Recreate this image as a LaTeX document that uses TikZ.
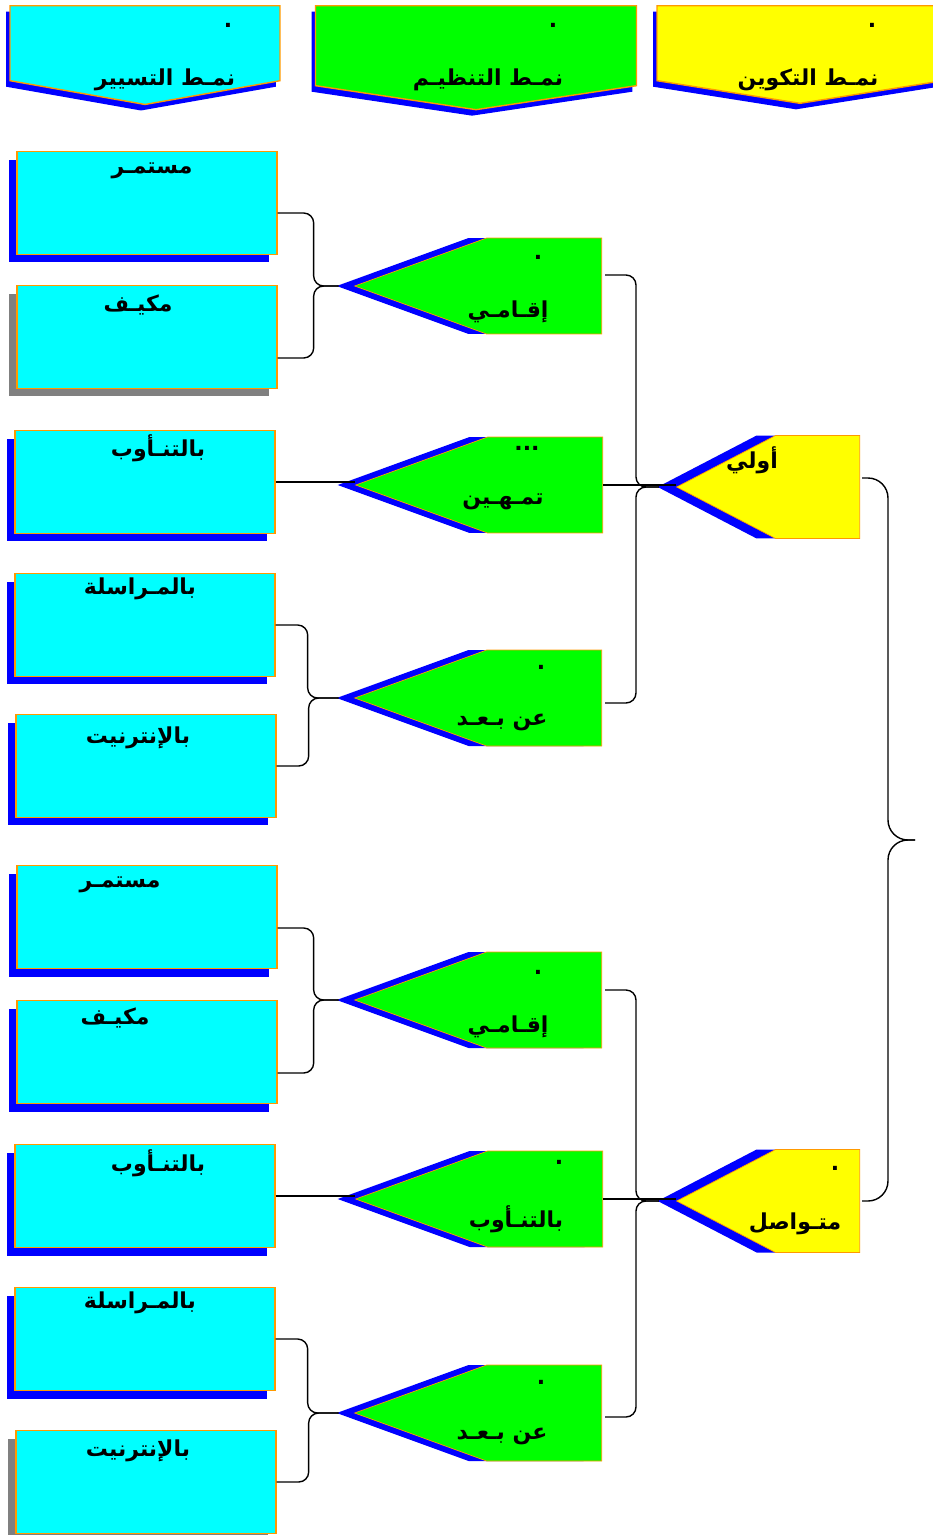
\documentclass[tikz,border=0pt]{standalone}
\usepackage{fontspec}
\newfontfamily\arabicfont[Script=Arabic]{DejaVu Sans}
\TeXXeTstate=1
\usepackage{tikz}
\usetikzlibrary{shapes.symbols, positioning, calc, shadows}
\definecolor{borde}{RGB}{255,153,0}
\definecolor{cian}{RGB}{0,255,255}
\definecolor{verde}{RGB}{0,255,0}
\definecolor{amarillo}{RGB}{255,255,0}
\definecolor{azul}{RGB}{0,0,255}
\definecolor{gris}{RGB}{128,128,128}
\tikzset{
  cajabase/.style={rectangle, minimum width=5.2cm, minimum height=2.06cm, inner sep=0pt, draw=borde, line width=0.8pt, fill=cian},
  caja/.style={cajabase, drop shadow={shadow xshift=-0.16cm, shadow yshift=-0.16cm, fill=azul, opacity=1}},
  cajagris/.style={cajabase, drop shadow={shadow xshift=-0.16cm, shadow yshift=-0.16cm, fill=gris, opacity=1}},
  modo/.style={signal, signal to=west, signal pointer angle=40, minimum width=4.94cm, minimum height=1.92cm, inner sep=0pt, draw=borde, fill=verde, drop shadow={shadow xshift=-0.36cm, shadow yshift=0cm, fill=azul, opacity=1}},
  tipo/.style={signal, signal to=west, signal pointer angle=55, minimum width=3.66cm, minimum height=2.06cm, inner sep=0pt, draw=borde, fill=amarillo, drop shadow={shadow xshift=-0.38cm, shadow yshift=0cm, fill=azul, opacity=1}},
  cabeza/.style={signal, signal to=south, inner sep=0pt, draw=borde, line width=0.8pt, drop shadow={shadow xshift=-0.08cm, shadow yshift=-0.12cm, fill=azul, opacity=1}},
  texto/.style={inner sep=0pt},
  llave/.style={draw=black, line width=0.8pt, rounded corners=0.2cm}
}

\begin{document}
\begin{tikzpicture}[
        x=0.02cm, y=-0.02cm,
        every node/.style={font=\arabicfont\bfseries\fontsize{12.5}{14}\selectfont}
    ]
        \useasboundingbox (0,0) rectangle (933,1535);

        % --- Cabeceras ---
        \node (hcyan) [cabeza, fill=cian, signal pointer angle=160, minimum width=5.4cm, minimum height=1.5cm, anchor=north] at (145,5) {};
        \node (hgreen) [cabeza, fill=verde, signal pointer angle=163, minimum width=6.42cm, minimum height=1.6cm, anchor=north] at (476,5) {};
        \node (hyellow) [cabeza, fill=amarillo, signal pointer angle=162, minimum width=5.72cm, minimum height=1.5cm, anchor=north] at (800,5) {};
        \node (thcyan) [texto] at (165,80) {\beginR نمـط التسيير\endR};
        \node (thgreen) [texto] at (488,80) {\beginR نمـط  التنظيـم\endR};
        \node (thyellow) [texto] at (808,80) {\beginR نمـط التكوين\endR};
        \node (phcyan) [texto] at (228,25) {.};
        \node (phgreen) [texto] at (553,25) {.};
        \node (phyellow) [texto] at (872,25) {.};

        % --- Cajas de la izquierda ---
        \node (b1) [caja] at (147,203) {};
        \node (b2) [cajagris] at (147,337) {};
        \node (b3) [caja] at (145,482) {};
        \node (b4) [caja] at (145,625) {};
        \node (b5) [caja] at (146,766) {};
        \node (b6) [caja] at (147,917) {};
        \node (b7) [caja] at (147,1052) {};
        \node (b8) [caja] at (145,1196) {};
        \node (b9) [caja] at (145,1339) {};
        \node (b10) [cajagris] at (146,1482) {};
        \node (tb1) [texto] at (152,171) {\beginR مستمـر\endR};
        \node (tb2) [texto] at (138,305) {\beginR مكيـف\endR};
        \node (tb3) [texto] at (158,448) {\beginR بالتنـأوب\endR};
        \node (tb4) [texto] at (140,589) {\beginR بالمـراسلة\endR};
        \node (tb5) [texto] at (138,738) {\beginR بالإنترنيت\endR};
        \node (tb6) [texto] at (120,885) {\beginR مستمـر\endR};
        \node (tb7) [texto] at (115,1018) {\beginR مكيـف\endR};
        \node (tb8) [texto] at (158,1163) {\beginR بالتنـأوب\endR};
        \node (tb9) [texto] at (140,1303) {\beginR بالمـراسلة\endR};
        \node (tb10) [texto] at (138,1451) {\beginR بالإنترنيت\endR};

        % --- Modos (verdes) ---
        \node (g1) [modo, anchor=east] at (602,286) {};
        \node (g2) [modo, anchor=east] at (603,485) {};
        \node (g3) [modo, anchor=east] at (602,698) {};
        \node (g4) [modo, anchor=east] at (602,1000) {};
        \node (g5) [modo, anchor=east] at (603,1199) {};
        \node (g6) [modo, anchor=east] at (602,1413) {};
        \node (tg1) [texto] at (508,312) {\beginR إقـامـي\endR};
        \node (tg2) [texto] at (503,502) {\beginR تمـهـين\endR};
        \node (tg3) [texto] at (502,722) {\beginR عن بـعـد\endR};
        \node (tg4) [texto] at (508,1027) {\beginR إقـامـي\endR};
        \node (tg5) [texto] at (516,1219) {\beginR بالتنـأوب\endR};
        \node (tg6) [texto] at (502,1436) {\beginR عن بـعـد\endR};
        \node (pg1) [texto] at (538,257) {.};
        \node (pg2) [texto] at (527,448) {...};
        \node (pg3) [texto] at (541,667) {.};
        \node (pg4) [texto] at (538,972) {.};
        \node (pg5) [texto] at (559,1162) {.};
        \node (pg6) [texto] at (541,1382) {.};

        % --- Tipos (amarillos) ---
        \node (y1) [tipo, anchor=east] at (860,487) {};
        \node (y2) [tipo, anchor=east] at (860,1201) {};
        \node (ty1) [texto] at (752,460) {\beginR أولي\endR};
        \node (ty2) [texto] at (795,1224) {\beginR متـواصل\endR};
        \node (py2) [texto] at (835,1168) {.};
        \coordinate (pico) at (915,840);

        % --- Llaves cajas -> modos ---
        \draw [llave] ([yshift=-0.2cm]b1.east) -- ++(0.72cm,0) |- ([xshift=-0.3cm]g1.west);
        \draw [llave] ([yshift=-0.42cm]b2.east) -- ++(0.72cm,0) |- ([xshift=-0.3cm]g1.west);
        \draw [llave] (b3.east) -- (b3.east -| g2.west);
        \draw [llave] (b4.east) -- ++(0.64cm,0) |- ([xshift=-0.3cm]g3.west);
        \draw [llave] (b5.east) -- ++(0.64cm,0) |- ([xshift=-0.3cm]g3.west);
        \draw [llave] ([yshift=-0.22cm]b6.east) -- ++(0.72cm,0) |- ([xshift=-0.3cm]g4.west);
        \draw [llave] ([yshift=-0.42cm]b7.east) -- ++(0.72cm,0) |- ([xshift=-0.3cm]g4.west);
        \draw [llave] (b8.east) -- (b8.east -| g5.west);
        \draw [llave] (b9.east) -- ++(0.64cm,0) |- ([xshift=-0.3cm]g6.west);
        \draw [llave] (b10.east) -- ++(0.64cm,0) |- ([xshift=-0.3cm]g6.west);

        % --- Llaves modos -> tipos ---
        \draw [llave] ([xshift=0.06cm, yshift=0.22cm]g1.east) -- ++(0.62cm,0) |- ([xshift=-0.34cm]y1.west);
        \draw [llave] (g2.east) -- (g2.east -| y1.west);
        \draw [llave] ([xshift=0.06cm, yshift=-0.1cm]g3.east) -- ++(0.62cm,0) |- ([xshift=-0.34cm]y1.west);
        \draw [llave] ([xshift=0.06cm, yshift=0.2cm]g4.east) -- ++(0.62cm,0) |- ([xshift=-0.34cm]y2.west);
        \draw [llave] (g5.east) -- (g5.east -| y2.west);
        \draw [llave] ([xshift=0.06cm, yshift=-0.08cm]g6.east) -- ++(0.62cm,0) |- ([xshift=-0.34cm]y2.west);

        % --- Llave final ---
        \draw [llave, rounded corners=0.4cm] ([xshift=0.04cm, yshift=0.18cm]y1.east) -- ++(0.52cm,0) |- (pico);
        \draw [llave, rounded corners=0.4cm] ([xshift=0.04cm]y2.east) -- ++(0.52cm,0) |- (pico);

    \end{tikzpicture}
\end{document}
